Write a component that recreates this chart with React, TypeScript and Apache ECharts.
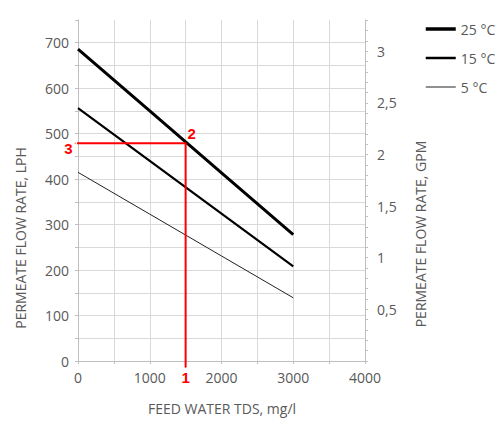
import React, { useEffect, useRef } from 'react';
import * as echarts from 'echarts';

// feed water TDS, mg/l
const tds = [0, 1000, 2000, 3000];
// permeate flow, LPH
const flow25 = [686, 550, 414, 278];
const flow15 = [556, 440, 324, 208];
const flow5 = [415, 323, 231, 139];
const seriesNames = ['25 °C', '15 °C', '5 °C'];

// worked example: 1 -> 2 -> 3
const exampleTds = 1500;
const exampleFlow = 479;

const LPH_PER_GPM = 227.1;
const yMax = 750;

const gray = '#595959';
const gridColor = '#d9d9d9';
const font = '"Open Sans", sans-serif';

const App: React.FC = () => {
  const chartRef = useRef<HTMLDivElement>(null);

  useEffect(() => {
    if (!chartRef.current) return;
    const chart = echarts.init(chartRef.current, null, { renderer: 'svg' });

    const pairs = (ys: number[]) => tds.map((x, i) => [x, ys[i]]);
    const hLines = Math.round(yMax / 50) + 1;
    const hColors = Array.from({ length: hLines }, (_, i) =>
      i === hLines - 1 ? 'rgba(0,0,0,0)' : gridColor
    );

    const redLabel = {
      show: true,
      color: '#ff0000',
      fontWeight: 'bold' as const,
      fontSize: 15,
      lineHeight: 13,
      fontFamily: 'Liberation Sans, Arial, sans-serif',
    };

    chart.setOption({
      animation: false,
      grid: { left: 78, right: 135, top: 20, bottom: 66 },
      legend: {
        orient: 'vertical',
        left: 419,
        top: 17,
        itemWidth: 30,
        itemHeight: 14,
        itemGap: 15,
        itemStyle: { opacity: 0 },
        textStyle: { color: gray, fontSize: 14, fontFamily: font },
        data: [
          { name: seriesNames[0], lineStyle: { width: 3.5 } },
          { name: seriesNames[1], lineStyle: { width: 2.5 } },
          { name: seriesNames[2], lineStyle: { width: 1 } },
        ],
      },
      xAxis: {
        type: 'value',
        min: 0,
        max: 4000,
        interval: 500,
        axisLine: { show: true, lineStyle: { color: '#bfbfbf' } },
        axisTick: { show: true, length: 3, lineStyle: { color: '#bfbfbf' } },
        splitLine: { show: true, lineStyle: { color: gridColor } },
        axisLabel: {
          margin: 9,
          color: gray,
          fontSize: 14,
          fontFamily: font,
          formatter: (v: number) => (v % 1000 === 0 ? String(v) : ''),
        },
      },
      yAxis: [
        {
          type: 'value',
          min: 0,
          max: yMax,
          interval: 50,
          axisLine: { show: true, lineStyle: { color: '#bfbfbf' } },
          axisTick: { show: true, length: 3, lineStyle: { color: '#bfbfbf' } },
          splitLine: { show: true, lineStyle: { color: hColors } },
          axisLabel: {
            margin: 9,
            color: gray,
            fontSize: 14,
            lineHeight: 14,
            fontFamily: font,
            formatter: (v: number) => (v % 100 === 0 && v < yMax ? String(v) : ''),
          },
        },
        {
          type: 'value',
          position: 'right',
          min: 0,
          max: yMax / LPH_PER_GPM,
          interval: 0.1,
          axisLine: { show: true, lineStyle: { color: '#bfbfbf' } },
          axisTick: { show: true, length: 3, lineStyle: { color: '#bfbfbf' } },
          splitLine: { show: false },
          axisLabel: {
            margin: 12,
            color: gray,
            fontSize: 14,
            fontFamily: font,
            formatter: (v: number) => {
              const r = Math.round(v * 10) / 10;
              if (r === 0 || Math.abs(r * 2 - Math.round(r * 2)) > 1e-6) return '';
              if (Math.abs(v - r) > 1e-6) return '';
              return String(r).replace('.', ',');
            },
          },
        },
      ],
      graphic: [
        {
          type: 'text',
          x: 20,
          y: 238,
          rotation: Math.PI / 2,
          style: {
            text: 'PERMEATE FLOW RATE, LPH',
            fill: gray,
            font: `14px ${font}`,
            textAlign: 'center',
            textVerticalAlign: 'middle',
          },
        },
        {
          type: 'text',
          x: 420,
          y: 234,
          rotation: Math.PI / 2,
          style: {
            text: 'PERMEATE FLOW RATE, GPM',
            fill: gray,
            font: `14px ${font}`,
            textAlign: 'center',
            textVerticalAlign: 'middle',
          },
        },
        {
          type: 'text',
          x: 222,
          y: 408,
          style: {
            text: 'FEED WATER TDS, mg/l',
            fill: gray,
            font: `14px ${font}`,
            textAlign: 'center',
            textVerticalAlign: 'middle',
          },
        },
      ],
      series: [
        {
          name: seriesNames[0],
          type: 'line',
          symbol: 'none',
          data: pairs(flow25),
          lineStyle: { color: '#000', width: 3 },
          itemStyle: { color: '#000' },
        },
        {
          name: seriesNames[1],
          type: 'line',
          symbol: 'none',
          data: pairs(flow15),
          lineStyle: { color: '#000', width: 2.2 },
          itemStyle: { color: '#000' },
        },
        {
          name: seriesNames[2],
          type: 'line',
          symbol: 'none',
          data: pairs(flow5),
          lineStyle: { color: '#222', width: 1 },
          itemStyle: { color: '#222' },
        },
        {
          name: 'example',
          type: 'line',
          clip: false,
          symbol: 'circle',
          symbolSize: 1,
          itemStyle: { color: '#ff0000' },
          lineStyle: { color: '#ff0000', width: 2 },
          z: 5,
          data: [
            {
              value: [exampleTds, -14],
              label: { ...redLabel, formatter: '1', position: 'bottom', distance: 3 },
            },
            {
              value: [exampleTds, exampleFlow],
              label: { ...redLabel, formatter: '2', position: 'top', distance: 3, offset: [6, 0] },
            },
            {
              value: [-40, exampleFlow],
              label: { ...redLabel, formatter: '3', position: 'left', distance: 2, offset: [0, 5] },
            },
          ],
        },
      ],
    });

    return () => {
      chart.dispose();
    };
  }, []);

  return (
    <div
      ref={chartRef}
      style={{ position: 'fixed', left: 0, top: 0, width: 500, height: 427, background: '#fff' }}
    />
  );
};

export default App;
